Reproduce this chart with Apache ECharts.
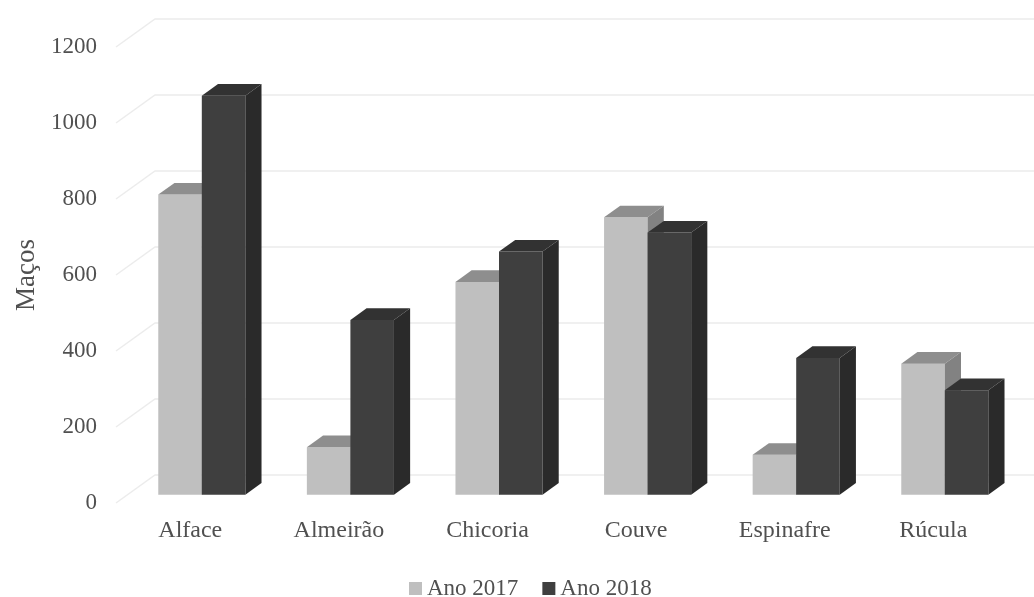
<!DOCTYPE html>
<html>
<head>
<meta charset="utf-8">
<script src="https://cdn.jsdelivr.net/npm/echarts@6/dist/echarts.min.js"></script>
<style>
  html, body { margin: 0; padding: 0; background: #ffffff; }
  #chart { width: 1034px; height: 597px; }
</style>
</head>
<body>
<div id="chart"></div>
<script>
// Bunches (maços) sold per vegetable, two seasons
const categories = ['Alface', 'Almeirão', 'Chicoria', 'Couve', 'Espinafre', 'Rúcula'];
const ano2017 = [790, 125, 560, 730, 105, 345];
const ano2018 = [1050, 460, 640, 690, 360, 275];
const yTicks = [0, 200, 400, 600, 800, 1000, 1200];
const seriesNames = ['Ano 2017', 'Ano 2018'];

// Pseudo-3D geometry: depth of the back wall, bar position inside that depth
const DEPTH_X = 39;
const DEPTH_Y = 28;
const BAR_FRONT = 0.295;
const BAR_BACK = 0.71;
const BAR_FRAC = 0.293;

const FONT = "'Liberation Serif', 'Times New Roman', serif";
const TEXT_COLOR = '#505050';

const shades = {
  light: { front: '#bfbfbf', top: '#8e8e8e', side: '#828282' },
  dark:  { front: '#3f3f3f', top: '#323232', side: '#2a2a2a' }
};

// Slanted + back-wall gridlines
function renderGrid(params, api) {
  const v = api.value(1);
  const band = api.size([1, 0])[0];
  const p = api.coord([0, v]);
  const x0 = p[0] - band / 2;
  const y = p[1];
  return {
    type: 'polyline',
    shape: { points: [[x0, y], [x0 + DEPTH_X, y - DEPTH_Y], [api.getWidth(), y - DEPTH_Y]] },
    style: { stroke: '#ececec', lineWidth: 1.5, fill: null },
    silent: true
  };
}

// Box-shaped bar: front face, top face and right side face
function makeBarRenderer(leftSide, c) {
  return function (params, api) {
    const ci = api.value(0);
    const v = api.value(1);
    const band = api.size([1, 0])[0];
    const base = api.coord([ci, 0]);
    const top = api.coord([ci, v]);
    const w = band * BAR_FRAC;
    const fx = DEPTH_X * BAR_FRONT, fy = -DEPTH_Y * BAR_FRONT;
    const bx = DEPTH_X * (BAR_BACK - BAR_FRONT), by = -DEPTH_Y * (BAR_BACK - BAR_FRONT);
    const x0 = base[0] + (leftSide ? -w : 0) + fx;
    const x1 = x0 + w;
    const yb = base[1] + fy;
    const yt = top[1] + fy;
    return {
      type: 'group',
      children: [
        { type: 'polygon', shape: { points: [[x0, yt], [x1, yt], [x1, yb], [x0, yb]] }, style: { fill: c.front } },
        { type: 'polygon', shape: { points: [[x0, yt], [x0 + bx, yt + by], [x1 + bx, yt + by], [x1, yt]] }, style: { fill: c.top } },
        { type: 'polygon', shape: { points: [[x1, yt], [x1 + bx, yt + by], [x1 + bx, yb + by], [x1, yb]] }, style: { fill: c.side } }
      ]
    };
  };
}

const chart = echarts.init(document.getElementById('chart'), null, { renderer: 'canvas' });

chart.setOption({
  animation: false,
  backgroundColor: '#ffffff',
  grid: { left: 116, right: 26.4, top: 47, bottom: 94, containLabel: false },
  legend: {
    data: seriesNames,
    top: 572,
    left: 404,
    icon: 'rect',
    itemWidth: 13,
    itemHeight: 13,
    itemGap: 24,
    textStyle: { fontFamily: FONT, fontSize: 23, color: TEXT_COLOR }
  },
  xAxis: {
    type: 'category',
    data: categories,
    axisLine: { show: false },
    axisTick: { show: false },
    splitLine: { show: false },
    axisLabel: { fontFamily: FONT, fontSize: 24, color: TEXT_COLOR, margin: 16 }
  },
  yAxis: {
    type: 'value',
    min: 0,
    max: 1200,
    interval: 200,
    name: 'Maços',
    nameLocation: 'middle',
    nameGap: 76,
    nameTextStyle: { fontFamily: FONT, fontSize: 27, color: TEXT_COLOR },
    axisLine: { show: false },
    axisTick: { show: false },
    splitLine: { show: false },
    axisLabel: {
      fontFamily: FONT, fontSize: 23, color: TEXT_COLOR, margin: 19,
      formatter: function (v) { return String(v); }
    }
  },
  series: [
    {
      type: 'custom',
      name: 'grid',
      silent: true,
      clip: false,
      z: 1,
      renderItem: renderGrid,
      encode: { x: 0, y: 1 },
      data: yTicks.map(function (t) { return [0, t]; })
    },
    {
      type: 'custom',
      name: seriesNames[0],
      clip: false,
      z: 2,
      itemStyle: { color: shades.light.front },
      renderItem: makeBarRenderer(true, shades.light),
      encode: { x: 0, y: 1 },
      data: ano2017.map(function (v, i) { return [i, v]; })
    },
    {
      type: 'custom',
      name: seriesNames[1],
      clip: false,
      z: 3,
      itemStyle: { color: shades.dark.front },
      renderItem: makeBarRenderer(false, shades.dark),
      encode: { x: 0, y: 1 },
      data: ano2018.map(function (v, i) { return [i, v]; })
    }
  ]
});
</script>
</body>
</html>
